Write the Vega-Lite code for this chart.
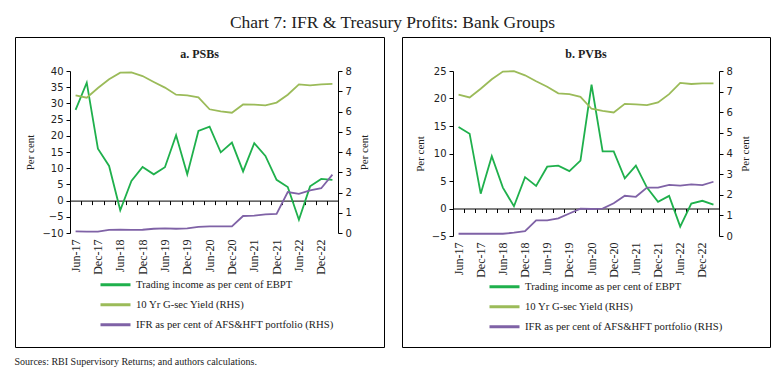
{
  "$schema": "https://vega.github.io/schema/vega-lite/v6.json",
  "background": "white",
  "padding": {"left": 14, "top": 14, "right": 0, "bottom": 0},
  "title": {"text": "Chart 7: IFR & Treasury Profits: Bank Groups", "font": "Liberation Serif", "fontSize": 17.5, "fontWeight": "normal", "color": "#222", "anchor": "middle", "offset": 5},
  "datasets": {
    "psb": [
      {"q": "Jun-17", "trading": 28.0, "gsec": 6.80, "ifr": 0.08},
      {"q": "Sep-17", "trading": 36.4, "gsec": 6.68, "ifr": 0.07},
      {"q": "Dec-17", "trading": 16.0, "gsec": 7.16, "ifr": 0.07},
      {"q": "Mar-18", "trading": 10.7, "gsec": 7.59, "ifr": 0.15},
      {"q": "Jun-18", "trading": -3.0, "gsec": 7.92, "ifr": 0.16},
      {"q": "Sep-18", "trading": 6.1, "gsec": 7.93, "ifr": 0.15},
      {"q": "Dec-18", "trading": 10.4, "gsec": 7.75, "ifr": 0.16},
      {"q": "Mar-19", "trading": 8.1, "gsec": 7.46, "ifr": 0.21},
      {"q": "Jun-19", "trading": 10.3, "gsec": 7.18, "ifr": 0.23},
      {"q": "Sep-19", "trading": 20.2, "gsec": 6.83, "ifr": 0.21},
      {"q": "Dec-19", "trading": 8.1, "gsec": 6.80, "ifr": 0.23},
      {"q": "Mar-20", "trading": 21.5, "gsec": 6.70, "ifr": 0.30},
      {"q": "Jun-20", "trading": 22.8, "gsec": 6.11, "ifr": 0.33},
      {"q": "Sep-20", "trading": 14.9, "gsec": 6.01, "ifr": 0.33},
      {"q": "Dec-20", "trading": 17.9, "gsec": 5.94, "ifr": 0.33},
      {"q": "Mar-21", "trading": 9.0, "gsec": 6.35, "ifr": 0.84},
      {"q": "Jun-21", "trading": 17.7, "gsec": 6.34, "ifr": 0.86},
      {"q": "Sep-21", "trading": 13.8, "gsec": 6.30, "ifr": 0.92},
      {"q": "Dec-21", "trading": 6.4, "gsec": 6.44, "ifr": 0.94},
      {"q": "Mar-22", "trading": 4.2, "gsec": 6.83, "ifr": 2.02},
      {"q": "Jun-22", "trading": -5.9, "gsec": 7.34, "ifr": 1.93},
      {"q": "Sep-22", "trading": 4.4, "gsec": 7.29, "ifr": 2.11},
      {"q": "Dec-22", "trading": 6.7, "gsec": 7.34, "ifr": 2.21},
      {"q": "Mar-23", "trading": 6.4, "gsec": 7.36, "ifr": 2.88}
    ],
    "pvb": [
      {"q": "Jun-17", "trading": 14.8, "gsec": 6.85, "ifr": 0.11},
      {"q": "Sep-17", "trading": 13.6, "gsec": 6.72, "ifr": 0.11},
      {"q": "Dec-17", "trading": 2.7, "gsec": 7.14, "ifr": 0.11},
      {"q": "Mar-18", "trading": 9.5, "gsec": 7.60, "ifr": 0.11},
      {"q": "Jun-18", "trading": 3.8, "gsec": 7.97, "ifr": 0.11},
      {"q": "Sep-18", "trading": 0.4, "gsec": 7.99, "ifr": 0.16},
      {"q": "Dec-18", "trading": 5.7, "gsec": 7.79, "ifr": 0.23},
      {"q": "Mar-19", "trading": 4.1, "gsec": 7.50, "ifr": 0.76},
      {"q": "Jun-19", "trading": 7.6, "gsec": 7.24, "ifr": 0.76},
      {"q": "Sep-19", "trading": 7.8, "gsec": 6.92, "ifr": 0.86},
      {"q": "Dec-19", "trading": 6.8, "gsec": 6.88, "ifr": 1.09},
      {"q": "Mar-20", "trading": 8.7, "gsec": 6.75, "ifr": 1.33},
      {"q": "Jun-20", "trading": 22.5, "gsec": 6.17, "ifr": 1.31},
      {"q": "Sep-20", "trading": 10.4, "gsec": 6.07, "ifr": 1.33},
      {"q": "Dec-20", "trading": 10.4, "gsec": 5.99, "ifr": 1.59},
      {"q": "Mar-21", "trading": 5.5, "gsec": 6.41, "ifr": 1.95},
      {"q": "Jun-21", "trading": 7.8, "gsec": 6.38, "ifr": 1.90},
      {"q": "Sep-21", "trading": 3.8, "gsec": 6.35, "ifr": 2.35},
      {"q": "Dec-21", "trading": 1.2, "gsec": 6.48, "ifr": 2.35},
      {"q": "Mar-22", "trading": 2.3, "gsec": 6.88, "ifr": 2.48},
      {"q": "Jun-22", "trading": -3.3, "gsec": 7.42, "ifr": 2.44},
      {"q": "Sep-22", "trading": 0.9, "gsec": 7.37, "ifr": 2.50},
      {"q": "Dec-22", "trading": 1.4, "gsec": 7.40, "ifr": 2.47},
      {"q": "Mar-23", "trading": 0.7, "gsec": 7.40, "ifr": 2.63}
    ]
  },
  "vconcat": [
    {
      "title": {"text": "Sources: RBI Supervisory Returns; and authors calculations.", "orient": "bottom", "anchor": "start", "font": "Liberation Serif", "fontSize": 10, "fontWeight": "normal", "color": "#222", "offset": 9},
      "spacing": 16,
      "resolve": {"scale": {"x": "independent", "y": "independent", "color": "independent"}, "legend": {"color": "independent"}},
      "hconcat": [
        {
          "width": 369,
          "height": 310,
          "data": {"name": "psb"},
          "title": {"text": "a. PSBs", "offset": -24, "font": "Liberation Serif", "fontSize": 12, "fontWeight": "bold", "color": "#222", "anchor": "middle"},
          "layer": [
            {
              "mark": {"type": "line", "strokeWidth": 1.8},
              "encoding": {
                "x": {"field": "q", "type": "nominal", "sort": null, "bandPosition": 0.5,
                  "scale": {"type": "band", "range": [55, 323], "paddingInner": 0, "paddingOuter": 0},
                  "axis": {"orient": "bottom", "offset": -114, "title": null, "domain": false, "ticks": false, "tickSize": 0, "labelAngle": 270, "labelPadding": 6, "labelFont": "Liberation Serif", "labelFontSize": 12, "labelOverlap": false, "labelColor": "#222", "labelExpr": "test(/^(Jun|Dec)/, datum.value) ? datum.value : ''"}},
                "y": {"field": "trading", "type": "quantitative",
                  "scale": {"domain": [-10, 40], "range": [196, 34], "nice": false, "zero": false},
                  "axis": {"orient": "left", "offset": -55, "values": [-10, -5, 0, 5, 10, 15, 20, 25, 30, 35, 40], "title": "Per cent", "titlePadding": 6, "labelFont": "DejaVu Sans", "labelFontSize": 10, "tickSize": 4, "labelPadding": 3}},
                "color": {"datum": "Trading income as per cent of EBPT", "type": "nominal",
                  "scale": {"domain": ["Trading income as per cent of EBPT", "10 Yr G-sec Yield (RHS)", "IFR as per cent of AFS&HFT portfolio (RHS)"], "range": ["#1fb04c", "#9bbb59", "#7f62a6"]},
                  "legend": {"orient": "none", "legendX": 84, "legendY": 238, "title": null, "symbolType": "stroke", "symbolSize": 900, "symbolStrokeWidth": 3, "clipHeight": 19.5, "labelFont": "Liberation Serif", "labelFontSize": 10.7, "labelColor": "#222", "labelLimit": 300, "rowPadding": 0, "labelOffset": 4}}
              }
            },
            {
              "encoding": {
                "x": {"field": "q", "type": "nominal", "sort": null, "bandPosition": 0.5,
                  "scale": {"type": "band", "range": [55, 323], "paddingInner": 0, "paddingOuter": 0},
                  "axis": {"orient": "bottom", "offset": -146.4, "title": null, "labels": false, "domain": true, "ticks": true, "tickSize": 4, "tickBand": "extent"}}
              },
              "layer": [
                {
                  "mark": {"type": "line", "strokeWidth": 1.8},
                  "encoding": {
                    "y": {"field": "gsec", "type": "quantitative",
                      "scale": {"domain": [0, 8], "range": [196, 34], "nice": false},
                      "axis": {"orient": "right", "offset": -46, "values": [0, 1, 2, 3, 4, 5, 6, 7, 8], "title": "Per cent", "titleAngle": 270, "titleBaseline": "top", "titlePadding": 7, "labelFont": "DejaVu Sans", "labelFontSize": 10, "tickSize": 4, "labelPadding": 3}},
                    "color": {"datum": "10 Yr G-sec Yield (RHS)", "type": "nominal"}
                  }
                },
                {
                  "mark": {"type": "line", "strokeWidth": 1.8},
                  "encoding": {
                    "y": {"field": "ifr", "type": "quantitative",
                      "scale": {"domain": [0, 8], "range": [196, 34], "nice": false},
                      "axis": {"orient": "right", "offset": -46, "values": [0, 1, 2, 3, 4, 5, 6, 7, 8], "title": "Per cent", "titleAngle": 270, "titleBaseline": "top", "titlePadding": 7, "labelFont": "DejaVu Sans", "labelFontSize": 10, "tickSize": 4, "labelPadding": 3}},
                    "color": {"datum": "IFR as per cent of AFS&HFT portfolio (RHS)", "type": "nominal"}
                  }
                }
              ]
            }
          ],
          "resolve": {"scale": {"y": "independent"}, "axis": {"x": "independent"}}
        },
        {
          "width": 368,
          "height": 310,
          "data": {"name": "pvb"},
          "title": {"text": "b. PVBs", "offset": -24, "font": "Liberation Serif", "fontSize": 12, "fontWeight": "bold", "color": "#222", "anchor": "middle"},
          "layer": [
            {
              "mark": {"type": "line", "strokeWidth": 1.8},
              "encoding": {
                "x": {"field": "q", "type": "nominal", "sort": null, "bandPosition": 0.5,
                  "scale": {"type": "band", "range": [51, 317], "paddingInner": 0, "paddingOuter": 0},
                  "axis": {"orient": "bottom", "offset": -111, "title": null, "domain": false, "ticks": false, "tickSize": 0, "labelAngle": 270, "labelPadding": 6, "labelFont": "Liberation Serif", "labelFontSize": 12, "labelOverlap": false, "labelColor": "#222", "labelExpr": "test(/^(Jun|Dec)/, datum.value) ? datum.value : ''"}},
                "y": {"field": "trading", "type": "quantitative",
                  "scale": {"domain": [-5, 25], "range": [199, 34], "nice": false, "zero": false},
                  "axis": {"orient": "left", "offset": -51, "values": [-5, 0, 5, 10, 15, 20, 25], "title": "Per cent", "titlePadding": 6, "labelFont": "DejaVu Sans", "labelFontSize": 10, "tickSize": 4, "labelPadding": 3}},
                "color": {"datum": "Trading income as per cent of EBPT", "type": "nominal",
                  "scale": {"domain": ["Trading income as per cent of EBPT", "10 Yr G-sec Yield (RHS)", "IFR as per cent of AFS&HFT portfolio (RHS)"], "range": ["#1fb04c", "#9bbb59", "#7f62a6"]},
                  "legend": {"orient": "none", "legendX": 86, "legendY": 240, "title": null, "symbolType": "stroke", "symbolSize": 900, "symbolStrokeWidth": 3, "clipHeight": 19.5, "labelFont": "Liberation Serif", "labelFontSize": 10.7, "labelColor": "#222", "labelLimit": 300, "rowPadding": 0, "labelOffset": 4}}
              }
            },
            {
              "encoding": {
                "x": {"field": "q", "type": "nominal", "sort": null, "bandPosition": 0.5,
                  "scale": {"type": "band", "range": [51, 317], "paddingInner": 0, "paddingOuter": 0},
                  "axis": {"orient": "bottom", "offset": -138.5, "title": null, "labels": false, "domain": true, "ticks": true, "tickSize": 4, "tickBand": "extent"}}
              },
              "layer": [
                {
                  "mark": {"type": "line", "strokeWidth": 1.8},
                  "encoding": {
                    "y": {"field": "gsec", "type": "quantitative",
                      "scale": {"domain": [0, 8], "range": [199, 34], "nice": false},
                      "axis": {"orient": "right", "offset": -51, "values": [0, 1, 2, 3, 4, 5, 6, 7, 8], "title": "Per cent", "titleAngle": 270, "titleBaseline": "top", "titlePadding": 7, "labelFont": "DejaVu Sans", "labelFontSize": 10, "tickSize": 4, "labelPadding": 3}},
                    "color": {"datum": "10 Yr G-sec Yield (RHS)", "type": "nominal"}
                  }
                },
                {
                  "mark": {"type": "line", "strokeWidth": 1.8},
                  "encoding": {
                    "y": {"field": "ifr", "type": "quantitative",
                      "scale": {"domain": [0, 8], "range": [199, 34], "nice": false},
                      "axis": {"orient": "right", "offset": -51, "values": [0, 1, 2, 3, 4, 5, 6, 7, 8], "title": "Per cent", "titleAngle": 270, "titleBaseline": "top", "titlePadding": 7, "labelFont": "DejaVu Sans", "labelFontSize": 10, "tickSize": 4, "labelPadding": 3}},
                    "color": {"datum": "IFR as per cent of AFS&HFT portfolio (RHS)", "type": "nominal"}
                  }
                }
              ]
            }
          ],
          "resolve": {"scale": {"y": "independent"}, "axis": {"x": "independent"}}
        }
      ]
    }
  ],
  "config": {
    "view": {"stroke": "#000", "strokeWidth": 1},
    "axis": {"grid": false, "domainColor": "#000", "tickColor": "#000", "labelColor": "#222", "titleColor": "#222", "titleFont": "Liberation Serif", "titleFontWeight": "normal", "titleFontSize": 11}
  }
}
